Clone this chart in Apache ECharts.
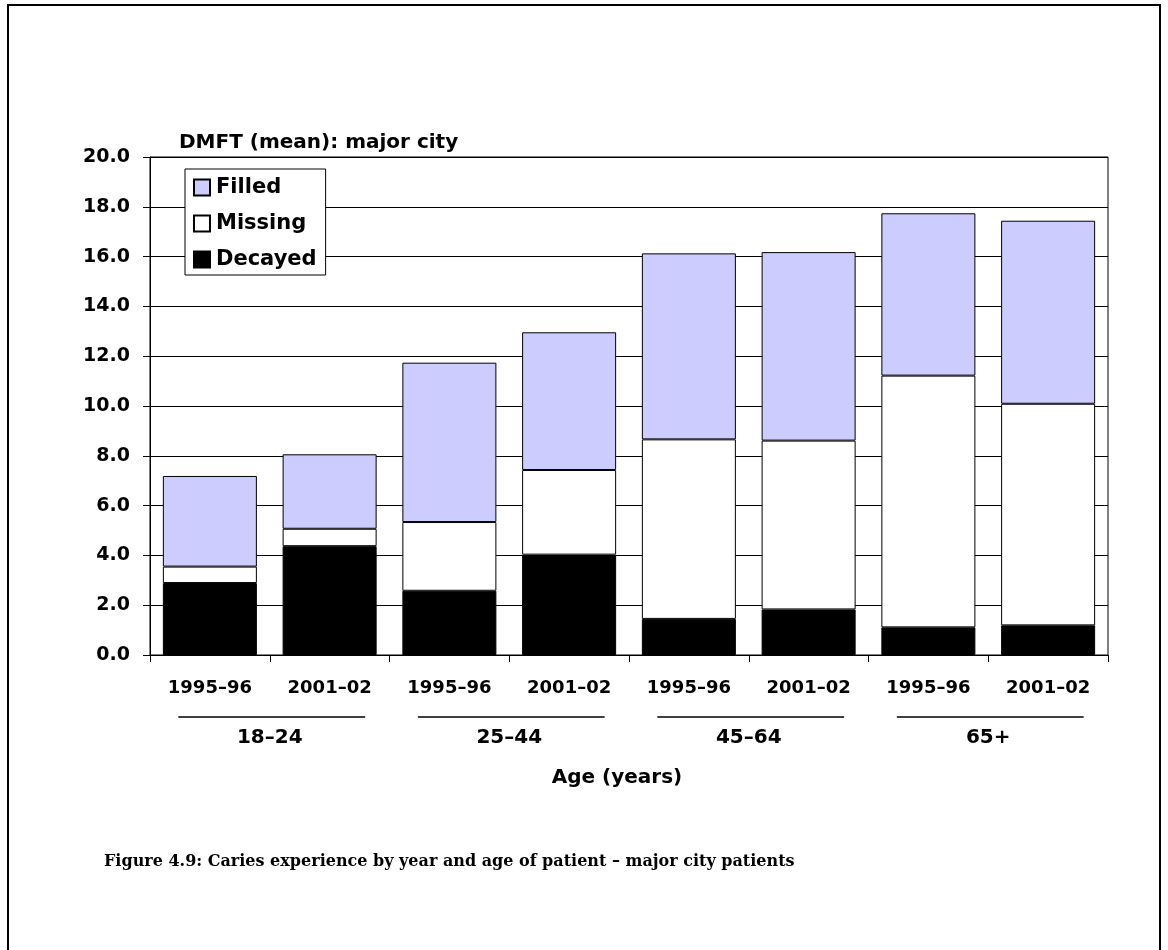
<!DOCTYPE html>
<html>
<head>
<meta charset="utf-8">
<script src="https://cdn.jsdelivr.net/npm/echarts@6/dist/echarts.min.js"></script>
<style>
  html, body { margin: 0; padding: 0; background: #fff; }
  #chart { width: 1168px; height: 950px; }
</style>
</head>
<body>
<div id="chart"></div>
<script>
// Survey periods within each age band
const periods = ['1995–96', '2001–02', '1995–96', '2001–02', '1995–96', '2001–02', '1995–96', '2001–02'];
const ageGroups = ['18–24', '25–44', '45–64', '65+'];

// Mean DMFT components (stacked: decayed, missing, filled)
const decayed = [2.89, 4.37, 2.58, 4.03, 1.45, 1.83, 1.11, 1.19];
const missing = [0.66, 0.70, 2.76, 3.40, 7.21, 6.78, 10.11, 8.90];
const filled  = [3.64, 2.99, 6.40, 5.53, 7.47, 7.57, 6.52, 7.35];

const yTicks = { min: 0, max: 20, interval: 2 };

const FONT = '"DejaVu Sans", "Liberation Sans", Arial, sans-serif';
const SERIF = '"DejaVu Serif", "Liberation Serif", serif';

const chart = echarts.init(document.getElementById('chart'), null, { renderer: 'canvas' });

// Index-based category keys keep the repeated period labels distinct
const catKeys = periods.map((p, i) => i);

const barStyle = (color) => ({ color: color, borderColor: '#000', borderWidth: 1 });

const option = {
  backgroundColor: '#fff',
  animation: false,
  textStyle: { fontFamily: FONT },
  grid: {
    left: 150, right: 60, top: 157, bottom: 295,
    show: true, borderColor: '#000', borderWidth: 1, backgroundColor: 'transparent'
  },
  legend: {
    orient: 'vertical',
    left: 185, top: 169,
    data: ['Filled', 'Missing', 'Decayed'],
    backgroundColor: '#fff',
    borderColor: '#000', borderWidth: 1,
    padding: [8, 9, 5, 8],
    itemWidth: 16, itemHeight: 16, itemGap: 15,
    icon: 'rect',
    textStyle: { fontFamily: FONT, fontWeight: 'bold', fontSize: 21, color: '#000', padding: [0, 0, 0, 1] }
  },
  xAxis: [
    {
      type: 'category',
      data: catKeys,
      axisLine: { lineStyle: { color: '#000', width: 1 } },
      axisTick: { show: true, length: 7, lineStyle: { color: '#000' } },
      axisLabel: {
        formatter: (v) => periods[+v],
        fontFamily: FONT, fontWeight: 'bold', fontSize: 18, color: '#000', margin: 24
      },
      splitLine: { show: false }
    },
    {
      type: 'category',
      data: ageGroups,
      position: 'bottom',
      axisLine: { show: false },
      axisTick: { show: false },
      axisLabel: { fontFamily: FONT, fontWeight: 'bold', fontSize: 20, color: '#000', margin: 73 },
      splitLine: { show: false }
    }
  ],
  yAxis: {
    type: 'value',
    min: yTicks.min, max: yTicks.max, interval: yTicks.interval,
    axisLine: { show: true, lineStyle: { color: '#000', width: 1 } },
    axisTick: { show: true, length: 7, lineStyle: { color: '#000' } },
    axisLabel: {
      formatter: (v) => v.toFixed(1),
      fontFamily: FONT, fontWeight: 'bold', fontSize: 19, color: '#000', margin: 20
    },
    splitLine: { show: true, lineStyle: { color: '#000', width: 1 } }
  },
  title: [
    {
      text: 'DMFT (mean): major city',
      left: 174, top: 128,
      textStyle: { fontFamily: FONT, fontWeight: 'bold', fontSize: 20, color: '#000' }
    },
    {
      text: 'Age (years)',
      left: 612, top: 763, textAlign: 'center',
      textStyle: { fontFamily: FONT, fontWeight: 'bold', fontSize: 20, color: '#000' }
    },
    {
      text: 'Figure 4.9: Caries experience by year and age of patient – major city patients',
      left: 99, top: 849,
      textStyle: { fontFamily: SERIF, fontWeight: 'bold', fontSize: 16, color: '#000' }
    }
  ],
  series: [
    { name: 'Decayed', type: 'bar', stack: 'dmft', data: decayed, barCategoryGap: '21.5%', itemStyle: barStyle('#000000') },
    { name: 'Missing', type: 'bar', stack: 'dmft', data: missing, itemStyle: barStyle('#ffffff') },
    { name: 'Filled',  type: 'bar', stack: 'dmft', data: filled,  itemStyle: barStyle('#ccccff') }
  ]
};

chart.setOption(option);

// Underlines beneath the period labels, one per age band, placed from the axis scale
function drawDecor() {
  const c0 = chart.convertToPixel({ xAxisIndex: 0 }, 0);
  const c1 = chart.convertToPixel({ xAxisIndex: 0 }, 1);
  const step = c1 - c0;
  const elements = [];
  ageGroups.forEach((g, i) => {
    const a = chart.convertToPixel({ xAxisIndex: 0 }, 2 * i);
    const b = chart.convertToPixel({ xAxisIndex: 0 }, 2 * i + 1);
    const mid = (a + b) / 2 + 2;
    const half = step * 0.78;
    elements.push({
      type: 'line',
      shape: { x1: mid - half, y1: 717, x2: mid + half, y2: 717 },
      style: { stroke: '#000', lineWidth: 1.3 },
      silent: true
    });
  });
  // Page frame
  elements.push({
    type: 'polyline',
    shape: { points: [[8, 950], [8, 5], [1160, 5], [1160, 950]] },
    style: { stroke: '#000', lineWidth: 2, fill: null },
    silent: true
  });
  chart.setOption({ graphic: elements });
}
drawDecor();
</script>
</body>
</html>
